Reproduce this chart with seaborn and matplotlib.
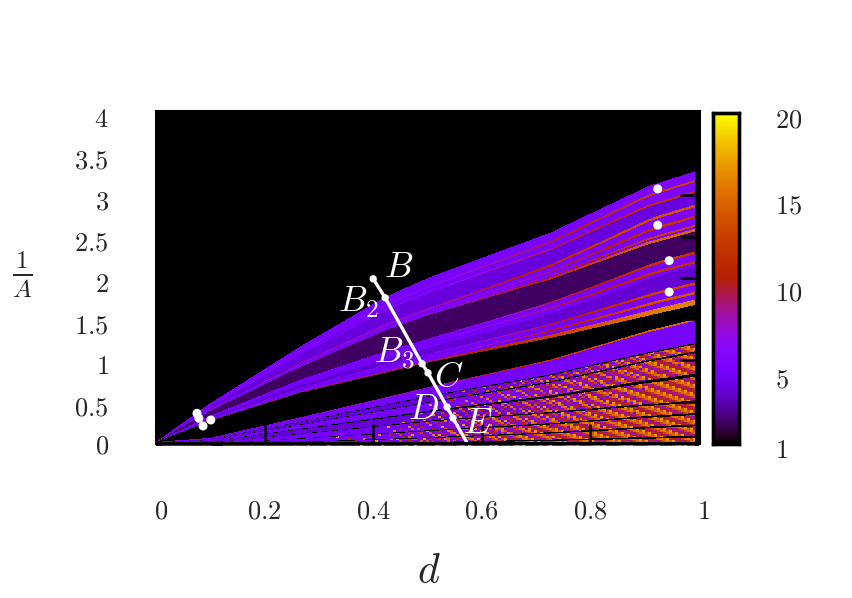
import numpy as np
import matplotlib
matplotlib.use("Agg")
import matplotlib.pyplot as plt
from matplotlib.transforms import ScaledTranslation
import seaborn as sns

# outline of the two wedges
knots_d = [0.0, 0.1, 0.266, 0.4225, 0.505, 0.727, 0.906, 0.992]
main_top = [0.0, 0.47, 1.16, 1.76, 2.0, 2.54, 3.10, 3.28]
main_bottom = [0.0, 0.26, 0.60, 0.84, 0.97, 1.26, 1.53, 1.66]
lower_top = [0.0, 0.05, 0.30, 0.54, 0.67, 1.0, 1.35, 1.49]
lower_bottom = [-0.05] * 8

# bands inside the upper wedge: where each starts (fraction from the top edge)
# around d=0.5 and d=0.93, and its value there
main_start_near = [0, .10, .12, .16, .18, .36, .38, .40, .41, .415, .42, .425, .44, .72, .73, .76, .77, .83, .90, .91, .95, .96, .98]
main_start_far = [0, .065, .08, .145, .16, .25, .27, .33, .35, .40, .415, .43, .45, .60, .62, .67, .69, .71, .83, .85, .90, .92, .96]
main_value_near = [5.2, 6.5, 5, 6, 4.2, 8, 5.3, 5.5, 5, 5, 5, 7, 2.2, 6, 5, 5.5, 5, 4, 6, 5, 6, 5, 9]
main_value_far = [5.6, 13, 5.5, 12, 4.2, 14, 5.5, 12, 5.5, 13, 5.5, 15, 2.2, 12, 5.5, 12, 5.5, 4, 13, 5.5, 14, 5.5, 16]

# bands inside the lower wedge, nan is a black gap
lower_start_near = [0, .015, .15, .165, .25, .265, .40, .425, .57, .585, .73, .745, .85, .865, .93, .945]
lower_start_far = [0, .015, .19, .20, .255, .27, .43, .455, .64, .655, .74, .755, .83, .845, .92, .935]
lower_value_near = [8, 5.2, np.nan, 4, np.nan, 5.2, np.nan, 4, np.nan, 5, np.nan, 5, np.nan, 5, np.nan, 5]
lower_value_far = [15, 5.2, np.nan, 5, np.nan, 5.2, np.nan, 5, np.nan, 5, np.nan, 5, np.nan, 5, np.nan, 5]
lower_speckle = [0, 0, 0, .02, 0, .05, 0, .10, 0, .15, 0, .2, 0, .25, 0, .3]

# hand typed speckle tile for the noisy lower right part
speckle_limit = [
    [.62, .95, .71, .55, .88, .66, 1.02, .59, .79, .93, .68],
    [.85, .58, .99, .74, .61, .91, .70, .83, .56, 1.05, .77],
    [.69, .81, .60, .97, .78, .53, .86, .64, .95, .72, .89],
    [1.0, .65, .84, .57, .92, .75, .63, .98, .69, .54, .82],
    [.57, .90, .73, .87, .67, 1.04, .80, .60, .88, .76, .96],
    [.78, .63, 1.01, .70, .56, .83, .94, .73, .62, .86, .59],
    [.93, .76, .55, .82, .98, .64, .58, .89, 1.03, .67, .74],
]
speckle_hot = [13, 9, 15, 11, 16, 8, 14, 10, 17]

# white markers and labels
cluster_d = [0.0755, 0.079, 0.0866, 0.101]
cluster_y = [0.36, 0.30, 0.206, 0.279]
right_d = [0.924, 0.924, 0.945, 0.945]
right_y = [3.08, 2.64, 2.21, 1.83]
path_d = [0.40, 0.422, 0.49, 0.501, 0.536, 0.547, 0.573]
path_y = [1.99, 1.76, 0.96, 0.85, 0.436, 0.303, 0.0]
point_names = [r"$B$", r"$B_2$", r"$B_3$", r"$C$", r"$D$", r"$E$"]
name_d = [0.447, 0.373, 0.44, 0.54, 0.492, 0.593]
name_y = [2.13, 1.70, 1.08, 0.80, 0.41, 0.24]

x_ticks = [0, 0.2, 0.4, 0.6, 0.8, 1]
x_tick_labels = ["0", "0.2", "0.4", "0.6", "0.8", "1"]
y_ticks = [0, 0.5, 1, 1.5, 2, 2.5, 3, 3.5, 4]
y_tick_labels = ["0", "0.5", "1", "1.5", "2", "2.5", "3", "3.5", "4"]
bar_ticks = [1, 5, 10, 15, 20]
bar_tick_labels = ["1", "5", "10", "15", "20"]

sns.set_style("white")
plt.rcParams["mathtext.fontset"] = "cm"
plt.rcParams["font.family"] = ["DejaVu Serif"]


def paint(grid, D, Y, top, bottom, near, far, v_near, v_far):
    upper = np.interp(D, knots_d, top)
    lower = np.interp(D, knots_d, bottom)
    inside = (Y <= upper) & (Y >= lower) & (upper > 0.0)
    frac = (upper - Y) / np.maximum(upper - lower, 1e-6)
    t = np.clip((D - 0.5) / 0.43, 0, 1)
    for i in range(len(near)):
        start = near[i] + (far[i] - near[i]) * t
        value = v_near[i] + (v_far[i] - v_near[i]) * t
        grid[inside & (frac >= start)] = value[inside & (frac >= start)]
    return inside, frac, t


cols, rows = 543, 336
d_values = (np.arange(cols) + 0.5) / cols
y_values = 4.024 + 0.0 - (np.arange(rows) + 0.5) / 82.5
D, Y = np.meshgrid(d_values, y_values)
grid = np.full(D.shape, np.nan)

paint(grid, D, Y, main_top, main_bottom, main_start_near, main_start_far, main_value_near, main_value_far)
inside, frac, t = paint(grid, D, Y, lower_top, lower_bottom, lower_start_near, lower_start_far,
                        lower_value_near, lower_value_far)

# speckle in the lower wedge, stronger towards the bottom
tile = np.array(speckle_limit)
row_id, col_id = np.indices(D.shape)
limit = tile[(row_id // 2) % tile.shape[0], (col_id // 3) % tile.shape[1]]
hot = np.array(speckle_hot)[(row_id // 2 * 5 + col_id // 3 * 2) % len(speckle_hot)]
for i in range(len(lower_start_near)):
    start = np.array(lower_start_near[i] + (lower_start_far[i] - lower_start_near[i]) * t)
    if lower_speckle[i] > 0:
        end = lower_start_near[i + 1] + (lower_start_far[i + 1] - lower_start_near[i + 1]) * t if i + 1 < len(lower_start_near) else 1.0
        band = inside & (frac >= start) & (frac < end) & np.isfinite(grid)
        spots = band & (D + lower_speckle[i] > limit)
        grid[spots] = hot[spots]
grid[D > 0.992] = np.nan

fig = plt.figure(figsize=(8.53, 5.98), dpi=100)
W, H = 853.0, 598.0
heat_ax = fig.add_axes([156 / W, (H - 446) / H, 543 / W, 336 / H])
cax = fig.add_axes([713 / W, (H - 443.5) / H, 26 / W, 330.5 / H])
top_ax = fig.add_axes([156 / W, (H - 443) / H, 543 / W, 332 / H])

sns.heatmap(grid, ax=heat_ax, cmap="gnuplot", vmin=1, vmax=20, cbar_ax=cax,
            xticklabels=False, yticklabels=False, cbar_kws={"ticks": bar_ticks})
heat_ax.set_facecolor("black")

top_ax.patch.set_visible(False)
sns.lineplot(x=path_d, y=path_y, ax=top_ax, color="white", linewidth=2.4, sort=False)
sns.scatterplot(x=path_d[:-1], y=path_y[:-1], ax=top_ax, color="white", s=28, edgecolor="none", zorder=5)
sns.scatterplot(x=cluster_d + right_d, y=cluster_y + right_y, ax=top_ax, color="white", s=42,
                edgecolor="none", zorder=5)
for label, xp, yp in zip(point_names, name_d, name_y):
    top_ax.text(xp, yp, label, color="white", fontsize=26, ha="center", va="center")

top_ax.set_xlim(0, 1)
top_ax.set_ylim(0, 4.024)
top_ax.set_xticks(x_ticks)
top_ax.set_xticklabels([f"${s}$" for s in x_tick_labels], fontsize=19)
top_ax.set_yticks(y_ticks)
top_ax.set_yticklabels([f"${s}$" for s in y_tick_labels], fontsize=19)
top_ax.tick_params(axis="both", direction="in", length=14, width=1.8, color="black",
                   top=True, right=True, bottom=True, left=True)
top_ax.tick_params(axis="x", pad=40)
top_ax.tick_params(axis="y", pad=34)
for side in top_ax.spines.values():
    side.set_visible(True)
    side.set_color("black")
    side.set_linewidth(2.2)

top_ax.set_xlabel(r"$d$", fontsize=30)
top_ax.xaxis.set_label_coords(0.503, -0.322)
top_ax.set_ylabel(r"$\frac{1}{A}$", fontsize=26, rotation=0, va="center", ha="center")
top_ax.yaxis.set_label_coords(-0.245, 0.506)

# nudge tick labels to where the reference has them
shift = ScaledTranslation(0, -4 / 100, fig.dpi_scale_trans)
for label in top_ax.get_yticklabels()[1:]:
    label.set_transform(label.get_transform() + shift)
x_shift = ScaledTranslation(5 / 100, 0, fig.dpi_scale_trans)
for label in [top_ax.get_xticklabels()[0], top_ax.get_xticklabels()[-1]]:
    label.set_transform(label.get_transform() + x_shift)

cax.set_yticks(bar_ticks)
cax.set_yticklabels([f"${s}$" for s in bar_tick_labels], fontsize=19)
cax.tick_params(axis="y", direction="in", length=19, width=1.8, color="black", pad=26, right=True, left=False)
bar_shift = ScaledTranslation(0, -4 / 100, fig.dpi_scale_trans)
for label in cax.get_yticklabels():
    label.set_transform(label.get_transform() + bar_shift)
for side in cax.spines.values():
    side.set_visible(True)
    side.set_color("black")
    side.set_linewidth(2.4)

fig.savefig("out.png", dpi=100)
